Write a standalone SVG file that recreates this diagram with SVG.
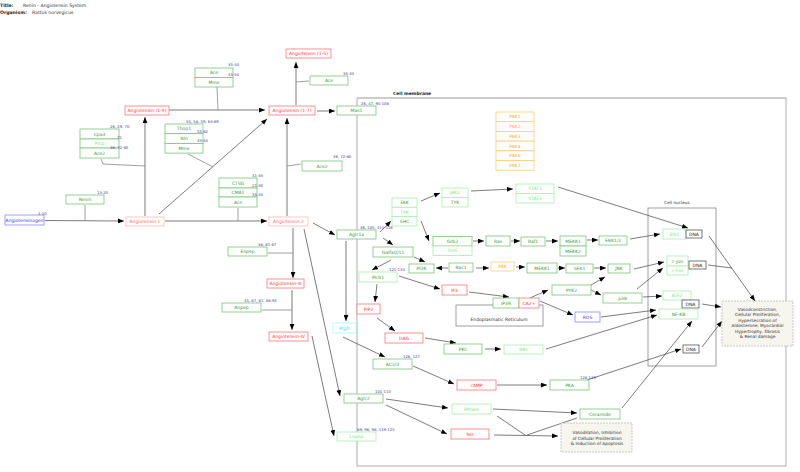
<svg xmlns="http://www.w3.org/2000/svg" width="800" height="472" viewBox="0 0 800 472">
<style>
text{font-family:"DejaVu Sans",sans-serif;}
.n rect{fill:#fff;stroke-width:0.8}
.n text{font-size:4.5px;text-anchor:middle;dominant-baseline:central}
.gr rect{stroke:#7cc47c}.gr text{fill:#3a9a3a}
.lg rect{stroke:#aaf0aa}.lg text{fill:#77e877}
.rd rect{stroke:#ff7777}.rd text{fill:#ff3333}
.pk rect{stroke:#ffbbbb}.pk text{fill:#ff6666}
.bl rect{stroke:#8888ff}.bl text{fill:#3333ff}
.or rect{stroke:#ffcc77}.or text{fill:#ffaa33}
.cy rect{stroke:#99ffff}.cy text{fill:#33dddd}
.dn rect{stroke:#555}.dn text{fill:#222}
.lbl{font-size:3.8px;fill:#3c3c9c}
.e{stroke:#444;stroke-width:0.7;fill:none;marker-end:url(#a)}
.m{stroke:#888;stroke-width:0.8;fill:none}
.ph rect{fill:#f6f5ee;stroke:#bbb;stroke-width:0.8;stroke-dasharray:2,1}
.ph text{font-size:4.3px;fill:#333;text-anchor:middle}
</style>
<defs>
<marker id="a" viewBox="0 0 10 8" refX="10" refY="4" markerWidth="6" markerHeight="5" orient="auto" markerUnits="userSpaceOnUse"><path d="M0,0 L10,4 L0,8z" fill="#000"/></marker>
</defs>
<rect width="800" height="472" fill="#fff"/>
<g id="title">
<text x="0" y="7" font-size="4.6" font-weight="bold" fill="#222">Title:</text>
<text x="23" y="7" font-size="4.6" fill="#333">Renin - Angiotensin System</text>
<text x="0" y="14" font-size="4.6" font-weight="bold" fill="#222">Organism:</text>
<text x="32" y="14" font-size="4.6" fill="#333">Rattus norvegicus</text>
</g>
<g id="cell-membrane">
<rect x="357" y="98" width="429" height="368" fill="none" stroke="#999" stroke-width="0.8"/>
<line x1="357" y1="98" x2="786" y2="98" stroke="#ccc" stroke-width="2"/>
<text x="393" y="95" font-size="4.5" font-weight="bold" fill="#222">Cell membrane</text>
</g>
<g id="cell-nucleus">
<rect x="648" y="208" width="68" height="158" fill="none" stroke="#888" stroke-width="0.8"/>
<text x="677" y="204" font-size="4.2" fill="#333" text-anchor="middle">Cell nucleus</text>
</g>
<g id="er">
<rect x="456" y="305" width="87" height="21" fill="#fff" stroke="#888" stroke-width="0.8"/>
<text x="499" y="320.5" font-size="4.5" fill="#333" text-anchor="middle">Endoplasmatic Reticulum</text>
</g>

<g id="connectors">
<path class="e" d="M45,220.5 L124,221"/>
<path class="m" d="M85,205 L85,221"/>
<path class="e" d="M145,216 L145,117"/>
<path class="m" d="M101,159 L103,164 L145,166"/>
<path class="e" d="M159,214 L267,119"/>
<path class="m" d="M188,154 L213,167"/>
<path class="e" d="M169,110 L265,110"/>
<path class="m" d="M217,87 L218,110"/>
<path class="e" d="M296,105 L296,62"/>
<path class="m" d="M309,81 L296,82"/>
<path class="e" d="M317,111 L335,111"/>
<path class="e" d="M287,216 L287,118"/>
<path class="m" d="M301,164 L287,166"/>
<path class="e" d="M165,221 L267,221"/>
<path class="m" d="M238,208 L238,221"/>
<path class="e" d="M293,228 L293,278"/>
<path class="m" d="M268,253 L293,253"/>
<path class="e" d="M292,290 L292,330"/>
<path class="m" d="M262,310 L292,310"/>
<path class="e" d="M313,223 L335,235"/>
<path class="e" d="M304,229 L340,396"/>
<path class="e" d="M312,336 L334,436"/>
<path class="e" d="M346,241 L346,321"/>
<path class="e" d="M380,232 L391,221"/>
<path class="e" d="M383,238 L393,245"/>
<path class="e" d="M391,260 L372,270"/>
<path class="e" d="M377,284 L375,302"/>
<path class="e" d="M377,318 L395,331"/>
<path class="e" d="M399,276 L440,289"/>
<path class="e" d="M414,257 L425,262"/>
<path class="e" d="M421,201 L440,193"/>
<path class="e" d="M471,191 L513,189"/>
<path class="e" d="M558,187 L688,228"/>
<path class="e" d="M421,221 L429,241"/>
<path class="e" d="M473,241 L484,241"/>
<path class="e" d="M511,241 L520,241"/>
<path class="e" d="M546,241 L558,241"/>
<path class="e" d="M587,240 L598,240"/>
<path class="e" d="M630,239 L660,234"/>
<path class="e" d="M448,268 L436,268"/>
<path class="e" d="M476,268 L489,268"/>
<path class="e" d="M516,267 L525,267"/>
<path class="e" d="M558,268 L565,268"/>
<path class="e" d="M594,268 L606,268"/>
<path class="e" d="M591,285 L605,277"/>
<path class="e" d="M591,290 L601,295"/>
<path class="e" d="M634,269 L664,262"/>
<path class="e" d="M637,289 L663,268"/>
<path class="e" d="M643,297 L662,296"/>
<path class="e" d="M709,236 L755,301"/>
<path class="e" d="M708,265 L732,268" style="marker-end:none"/>
<path class="e" d="M702,304 L721,307"/>
<path class="e" d="M702,347 L722,321"/>
<path class="e" d="M601,317 L656,310"/>
<path class="e" d="M546,349 L657,315"/>
<path class="e" d="M587,380 L681,349"/>
<path class="e" d="M622,408 L692,321"/>
<path class="e" d="M530,298 L548,290"/>
<path class="e" d="M540,301 L573,315"/>
<path class="e" d="M469,292 L509,297"/>
<path class="e" d="M425,338 L456,343"/>
<path class="e" d="M485,349 L501,349"/>
<path class="e" d="M343,337 L385,357"/>
<path class="e" d="M413,366 L454,384"/>
<path class="e" d="M497,385 L547,385"/>
<path class="e" d="M386,399 L448,408"/>
<path class="e" d="M386,405 L447,434"/>
<path class="e" d="M493,409 L577,413"/>
<path class="e" d="M497,416 L525,435" style="marker-end:none"/>
<path class="e" d="M494,435 L558,436"/>
<path class="e" d="M577,418 L527,435" style="marker-end:none"/>
</g>

<g id="angiotensinogen" class="n bl"><rect x="5" y="215" width="39" height="10"/><text x="24.5" y="220">Angiotensinogen</text></g>
<g id="renin" class="n gr"><rect x="66" y="195" width="38" height="9"/><text x="85" y="199.5">Renin</text></g>
<g id="ang1" class="n pk"><rect x="126" y="217" width="38" height="9"/><text x="145" y="221.5">Angiotensin 1</text></g>
<g id="ang19" class="n rd"><rect x="125" y="106" width="44" height="9"/><text x="147" y="110.5">Angiotensin (1-9)</text></g>
<g id="cpa3" class="n gr"><rect x="80" y="129" width="39" height="10"/><text x="99.5" y="134">Cpa3</text></g>
<g id="prcp" class="n lg"><rect x="80" y="139" width="39" height="9" style="stroke:#7cc47c"/><text x="99.5" y="143.5">Prcp</text></g>
<g id="ace2a" class="n gr"><rect x="80" y="148" width="39" height="10"/><text x="99.5" y="153">Ace2</text></g>
<g id="ace-top" class="n gr"><rect x="195" y="68" width="38" height="9.5"/><text x="214" y="72.8">Ace</text></g>
<g id="mme-top" class="n gr"><rect x="195" y="77.5" width="38" height="9.5"/><text x="214" y="82.3">Mme</text></g>
<g id="thop1" class="n gr"><rect x="165" y="124" width="38" height="9.7"/><text x="184" y="128.9">Thop1</text></g>
<g id="nln" class="n gr"><rect x="165" y="133.7" width="38" height="9.7"/><text x="184" y="138.6">Nln</text></g>
<g id="mme2" class="n gr"><rect x="165" y="143.4" width="38" height="9.7"/><text x="184" y="148.3">Mme</text></g>
<g id="ang15" class="n rd"><rect x="286" y="49" width="45" height="9"/><text x="308.5" y="53.5">Angiotensin (1-5)</text></g>
<g id="ace-mid" class="n gr"><rect x="310" y="76" width="38" height="9"/><text x="329" y="80.5">Ace</text></g>
<g id="ang17" class="n rd"><rect x="269" y="106" width="46" height="9"/><text x="292" y="110.5">Angiotensin (1-7)</text></g>
<g id="mas1" class="n gr"><rect x="337" y="106" width="39" height="9"/><text x="356.5" y="110.5">Mas1</text></g>
<g id="ace2b" class="n gr"><rect x="302" y="161" width="40" height="10"/><text x="322" y="166">Ace2</text></g>
<g id="ctsg" class="n gr"><rect x="219" y="178" width="38" height="10"/><text x="238" y="183">CTSG</text></g>
<g id="cma1" class="n gr"><rect x="219" y="188" width="38" height="9"/><text x="238" y="192.5">CMA1</text></g>
<g id="ace-low" class="n gr"><rect x="219" y="197" width="38" height="10"/><text x="238" y="202">Ace</text></g>
<g id="ang2" class="n pk"><rect x="269" y="217" width="39" height="9"/><text x="288.5" y="221.5">Angiotensin 2</text></g>
<g id="enpep" class="n gr"><rect x="228" y="247" width="39" height="9"/><text x="247.5" y="251.5">Enpep</text></g>
<g id="ang3" class="n rd"><rect x="267" y="279" width="37" height="9"/><text x="285.5" y="283.5">Angiotensin-III</text></g>
<g id="anpep" class="n gr"><rect x="222" y="303" width="39" height="9"/><text x="241.5" y="307.5">Anpep</text></g>
<g id="ang4" class="n rd"><rect x="269" y="332" width="39" height="9"/><text x="288.5" y="336.5">Angiotensin-IV</text></g>
<g id="agtr1a" class="n gr"><rect x="337" y="230" width="39" height="9"/><text x="356.5" y="234.5">Agtr1a</text></g>
<g id="fak" class="n gr"><rect x="392" y="198" width="25" height="9.3" style="stroke:#aaf0aa"/><text x="404.5" y="202.7">FAK</text></g>
<g id="tyk1" class="n lg"><rect x="392" y="207.3" width="25" height="9.3"/><text x="404.5" y="212">TYK</text></g>
<g id="shc" class="n gr"><rect x="392" y="216.6" width="25" height="9.4" style="stroke:#aaf0aa"/><text x="404.5" y="221.3">SHC</text></g>
<g id="jak2" class="n lg"><rect x="442" y="188" width="26" height="9.5"/><text x="455" y="192.8">JAK2</text></g>
<g id="tyk2" class="n gr"><rect x="442" y="197.5" width="26" height="9.5" style="stroke:#aaf0aa"/><text x="455" y="202.3">TYK</text></g>
<g id="stat1" class="n lg"><rect x="516" y="184" width="38" height="9.5"/><text x="535" y="188.8">STAT1</text></g>
<g id="stat3" class="n lg"><rect x="516" y="193.5" width="38" height="9.5"/><text x="535" y="198.3">STAT3</text></g>
<g id="pak1" class="n or"><rect x="496" y="112" width="38" height="9.7"/><text x="515" y="116.9">PAK1</text></g>
<g id="pak2" class="n or"><rect x="496" y="121.7" width="38" height="9.7"/><text x="515" y="126.6">PAK2</text></g>
<g id="pak3" class="n or"><rect x="496" y="131.4" width="38" height="9.7"/><text x="515" y="136.3">PAK3</text></g>
<g id="pak4" class="n or"><rect x="496" y="141.1" width="38" height="9.7"/><text x="515" y="146">PAK4</text></g>
<g id="pak6" class="n or"><rect x="496" y="150.8" width="38" height="9.7"/><text x="515" y="155.7">PAK6</text></g>
<g id="pak7" class="n or"><rect x="496" y="160.5" width="38" height="9.7"/><text x="515" y="165.4">PAK7</text></g>
<g id="galfa" class="n gr"><rect x="373" y="247" width="40" height="10"/><text x="393" y="252">GalfaQ/11</text></g>
<g id="plcb1" class="n gr"><rect x="359" y="272" width="38" height="10" style="stroke:#aaf0aa"/><text x="378" y="277">Plcb1</text></g>
<g id="ip3" class="n rd"><rect x="442" y="285" width="25" height="10"/><text x="454.5" y="290">IP3</text></g>
<g id="pip2" class="n rd"><rect x="357" y="304" width="23" height="10"/><text x="368.5" y="309">PIP2</text></g>
<g id="pi3k" class="n gr"><rect x="409" y="264" width="25" height="9"/><text x="421.5" y="268.5">PI3K</text></g>
<g id="rac1" class="n gr"><rect x="449" y="263" width="24" height="9"/><text x="461" y="267.5">Rac1</text></g>
<g id="pak" class="n or"><rect x="491" y="262" width="23" height="9"/><text x="502.5" y="266.5">PAK</text></g>
<g id="mekk1b" class="n gr"><rect x="527" y="263" width="30" height="10"/><text x="542" y="268">MEKK1</text></g>
<g id="sek1" class="n gr"><rect x="566" y="264" width="27" height="9"/><text x="579.5" y="268.5">SEK1</text></g>
<g id="jnk" class="n gr"><rect x="608" y="264" width="22" height="9"/><text x="619" y="268.5">JNK</text></g>
<g id="pyk2" class="n gr"><rect x="552" y="285" width="39" height="10"/><text x="571.5" y="290">PYK2</text></g>
<g id="p38" class="n gr"><rect x="603" y="293" width="39" height="10"/><text x="622.5" y="298">p38</text></g>
<g id="ros" class="n bl"><rect x="575" y="312" width="25" height="10"/><text x="587.5" y="317">ROS</text></g>
<g id="grb2" class="n gr"><rect x="433" y="236.5" width="39" height="9.5"/><text x="452.5" y="241.3">Grb2</text></g>
<g id="sos" class="n lg"><rect x="433" y="246" width="39" height="9.5"/><text x="452.5" y="250.8">SOS</text></g>
<g id="ras" class="n gr"><rect x="486" y="236" width="24" height="10"/><text x="498" y="241">Ras</text></g>
<g id="raf1" class="n gr"><rect x="521" y="237" width="24" height="9"/><text x="533" y="241.5">Raf1</text></g>
<g id="mekk1" class="n gr"><rect x="560" y="236" width="26" height="10"/><text x="573" y="241">MEKK1</text></g>
<g id="mekk2" class="n gr"><rect x="560" y="246" width="26" height="10"/><text x="573" y="251">MEKK2</text></g>
<g id="erk" class="n gr"><rect x="599" y="236" width="28" height="9"/><text x="613" y="240.5">ERK1/2</text></g>
<g id="elk1" class="n lg"><rect x="663" y="229" width="23" height="10"/><text x="674.5" y="234">Elk1</text></g>
<g id="dna1" class="n dn"><rect x="686" y="230" width="16" height="8"/><text x="694" y="234">DNA</text></g>
<g id="cjun" class="n gr"><rect x="667" y="256" width="21" height="10" style="stroke:#aaf0aa"/><text x="677.5" y="261">c-Jun</text></g>
<g id="cfos" class="n lg"><rect x="667" y="266" width="21" height="9"/><text x="677.5" y="270.5">c-Fos</text></g>
<g id="dna2" class="n dn"><rect x="689" y="261" width="17" height="8"/><text x="697.5" y="265">DNA</text></g>
<g id="atf2" class="n lg"><rect x="663" y="291" width="28" height="9"/><text x="677" y="295.5">ATF2</text></g>
<g id="dna3" class="n dn"><rect x="682" y="300" width="17" height="8"/><text x="690.5" y="304">DNA</text></g>
<g id="nfkb" class="n gr"><rect x="659" y="309" width="39" height="10" style="stroke:#aaf0aa"/><text x="678.5" y="314">NF-KB</text></g>
<g id="dna4" class="n dn"><rect x="683" y="345" width="16" height="8"/><text x="691" y="349">DNA</text></g>
<g id="vasoconstriction" class="ph"><rect x="722" y="301" width="71" height="45"/>
<text x="757.5" y="310.5">Vasodconstriction,</text>
<text x="757.5" y="316">Cellular Proliferation,</text>
<text x="757.5" y="321.5">Hypersecration of</text>
<text x="757.5" y="327">Aldosterone, Myocardial</text>
<text x="757.5" y="332.5">Hypertrophy, fibrosis</text>
<text x="757.5" y="338">&amp; Renal damage</text></g>
<g id="ip3r" class="n gr"><rect x="493" y="298" width="26" height="10"/><text x="506" y="303">IP3R</text></g>
<g id="ca" class="n rd"><rect x="519" y="298" width="20" height="10"/><text x="529" y="303">CA2+</text></g>
<g id="dag" class="n rd"><rect x="385" y="333" width="38" height="10"/><text x="404" y="338">DAG</text></g>
<g id="ptgfr" class="n cy"><rect x="333" y="323" width="23" height="10"/><text x="344.5" y="328">Ptgfr</text></g>
<g id="ac23" class="n gr"><rect x="373" y="359" width="39" height="10"/><text x="392.5" y="364">AC2/3</text></g>
<g id="pkc" class="n gr"><rect x="444" y="344" width="38" height="10"/><text x="463" y="349">PKC</text></g>
<g id="rks" class="n lg"><rect x="504" y="345" width="39" height="9"/><text x="523.5" y="349.5">RKs</text></g>
<g id="camp" class="n rd"><rect x="457" y="380" width="39" height="10"/><text x="476.5" y="385">cAMP</text></g>
<g id="pka" class="n gr"><rect x="550" y="380" width="39" height="10"/><text x="569.5" y="385">PKA</text></g>
<g id="agtr2" class="n gr"><rect x="344" y="394" width="39" height="9"/><text x="363.5" y="398.5">Agtr2</text></g>
<g id="pptase" class="n lg"><rect x="452" y="404" width="39" height="10"/><text x="471.5" y="409">PPtase</text></g>
<g id="no" class="n rd"><rect x="451" y="429" width="38" height="10"/><text x="470" y="434">NO</text></g>
<g id="ceramide" class="n gr"><rect x="580" y="409" width="40" height="10"/><text x="600" y="414">Ceramide</text></g>
<g id="vasodilation" class="ph"><rect x="561" y="423" width="71" height="29"/>
<text x="597" y="434">Vasodilation, Inhibition</text>
<text x="597" y="439.5">of Cellular Proliferation</text>
<text x="597" y="445">&amp; Induction of Apoptosis</text></g>
<g id="lnpep" class="n lg"><rect x="337" y="432" width="39" height="9"/><text x="356.5" y="436.5">Lnpep</text></g>

<g id="labels" class="lbl">
<text class="lbl" x="38" y="214.5">1-10</text>
<text class="lbl" x="97" y="193.5">13-20</text>
<text class="lbl" x="110" y="127.5">26, 29, 70</text>
<text class="lbl" x="117" y="138.5">71</text>
<text class="lbl" x="110" y="149">36, 72-80</text>
<text class="lbl" x="186" y="123">55, 58, 59, 63-69</text>
<text class="lbl" x="197" y="133">55-62</text>
<text class="lbl" x="197" y="142">45-54</text>
<text class="lbl" x="228" y="65.5">35-44</text>
<text class="lbl" x="228" y="75.5">45-54</text>
<text class="lbl" x="343" y="74.5">35-44</text>
<text class="lbl" x="361" y="104.5">26, 47, 95-108</text>
<text class="lbl" x="333" y="157.5">36, 72-80</text>
<text class="lbl" x="252" y="177">31-33</text>
<text class="lbl" x="252" y="186.5">21-30</text>
<text class="lbl" x="252" y="196">35-44</text>
<text class="lbl" x="360" y="228.5">36, 105, 111-116</text>
<text class="lbl" x="258" y="245.5">38, 81-87</text>
<text class="lbl" x="244" y="302">45, 67, 81, 88-94</text>
<text class="lbl" x="389" y="271">121-133</text>
<text class="lbl" x="403" y="357.5">126, 127</text>
<text class="lbl" x="580" y="379">128-129</text>
<text class="lbl" x="375" y="392.5">101-110</text>
<text class="lbl" x="357" y="430.5">89, 96, 98, 119-125</text>
</g>
</svg>
